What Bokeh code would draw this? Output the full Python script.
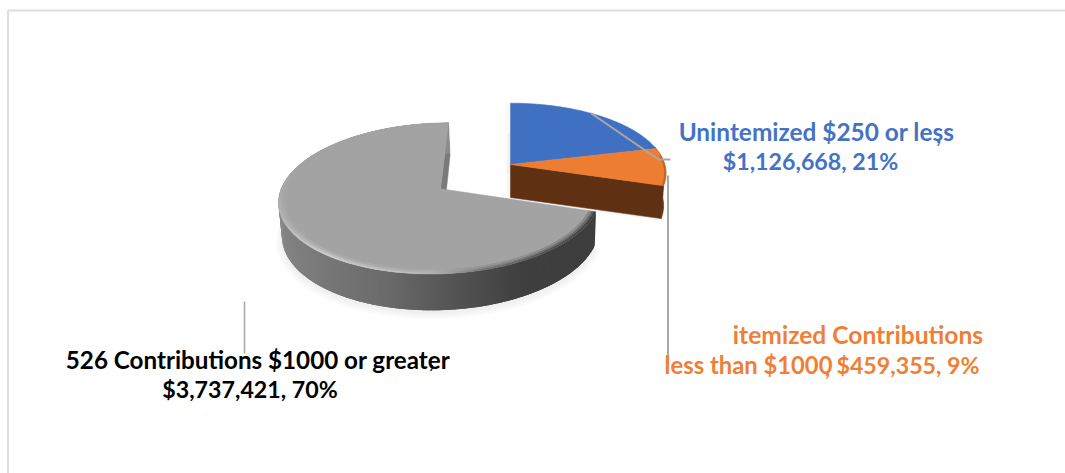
import numpy as np
from bokeh.core.properties import value
from bokeh.embed import file_html
from bokeh.plotting import figure
from bokeh.resources import INLINE

# Contribution totals, clockwise from twelve o'clock
categories = ["Unintemized $250 or less", "itemized Contributions less than $1000", "526 Contributions $1000 or greater"]
amounts = [1126668, 459355, 3737421]
shares = [21, 9, 70]
slice_colors = ["#4070c2", "#ed7d31", "#a3a3a3"]

label_lines = [
    ("Unintemized $250 or less", 816, 130.5, "#4472c4", 24.4),
    ("$1,126,668, 21%", 810, 160.5, "#4472c4", 23.2),
    ("itemized Contributions", 857.5, 333.5, "#f07f35", 24.6),
    ("less than $1000", 748, 364.5, "#f07f35", 23.8),
    ("$459,355, 9%", 907.5, 364.5, "#f07f35", 23.2),
    ("526 Contributions $1000 or greater", 257.5, 358.5, "#000000", 24.2),
    ("$3,737,421, 70%", 249.5, 388.5, "#000000", 23.2),
]
stray_marks = [(",", 431, 359, "#000000", 22), (",", 938, 134, "#4472c4", 22), (",", 827, 367, "#f07f35", 23)]

# Perspective of the tilted disc: vanishing column, horizon and foreshortening
VX, HORIZON, SPAN, PERSP, R0, DEPTH, BASE_SHRINK = 510.0, -393.0, 582.0, 0.13, 162.0, 33.0, 0.985
GRAY_CENTRE = (-70.0, 0.01 * 162.0)
GRAY_R = 0.985 * R0
PULLED_CENTRE = (0.0, 0.345 * R0)
PULLED_R = 0.995 * R0

fractions = np.array(amounts, dtype=float) / sum(amounts)
edges = np.concatenate([[0.0], np.cumsum(fractions)]) * 360.0


def top(centre, radius, deg):
    t = np.radians(deg)
    wx = centre[0] + radius * np.sin(t)
    wy = centre[1] + radius * np.cos(t)
    f = 1.0 / (1.0 + PERSP * wy / R0)
    return VX + wx * f, HORIZON + SPAN * f


def base(centre, radius, deg):
    x, y = top(centre, radius, deg)
    f = (y - HORIZON) / SPAN
    return VX + (x - VX) * BASE_SHRINK, y + DEPTH * f ** 0.7


def arc(a, b, step=1.0):
    return np.linspace(a, b, max(2, int(round((b - a) / step)) + 1))


def sector(centre, radius, a, b, proj=top):
    xs, ys = proj(centre, radius, arc(a, b))
    px, py = proj(centre, 0.0, np.array([0.0]))
    return np.r_[px, xs], np.r_[py, ys]


def hexes(levels):
    return [f"#{int(v):02x}{int(v):02x}{int(v):02x}" for v in levels]


def ring_strips(steps, outer, inner):
    """Overlapping quads along an arc, so that no seams show between them."""
    xs, ys = [], []
    last = steps[-1]
    for a, b in zip(steps[:-1], steps[1:]):
        c = min(b + 1.5, last)
        ox, oy = outer(np.array([a, c]))
        ix, iy = inner(np.array([c, a]))
        xs.append(np.r_[ox, ix].tolist())
        ys.append(np.r_[oy, iy].tolist())
    return xs, ys


p = figure(width=1065, height=473, x_range=(0, 1065), y_range=(473, 0),
           output_backend="svg", toolbar_location=None, min_border=0,
           background_fill_color="#ffffff", border_fill_color="#ffffff", outline_line_color=None)
p.axis.visible = False
p.grid.visible = False

# Frame of the chart area, running off the right and bottom edges
p.line([7.5, 7.5, 1070], [480, 10, 10], line_color="#dedede", line_width=2)

# Soft shadow beneath both pieces
gray_a, gray_b = edges[2], edges[3]
pull_a, pull_b = edges[0], edges[2]
for i in range(1, 6):
    xs, ys = sector(GRAY_CENTRE, GRAY_R * (1 + 0.008 * i), gray_a, gray_b, base)
    p.patch(xs, ys + 2 + i * 0.6, fill_color="#000000", fill_alpha=0.012, line_color=None)
    xs, ys = sector(PULLED_CENTRE, PULLED_R * (1 + 0.006 * i), pull_a, pull_b, base)
    p.patch(xs - i * 0.8, ys + i * 0.5, fill_color="#000000", fill_alpha=0.012, line_color=None)
    xs, ys = top(PULLED_CENTRE, np.array([0.0, PULLED_R]), np.array([0.0, 0.0]))
    p.line(xs - i * 0.8, ys + np.array([10, 0]), line_color="#000000", line_alpha=0.012, line_width=2)

# Cut face of the large slice, mostly hidden by its own top
cx0, cy0 = top(GRAY_CENTRE, 0.0, 0.0)
cx1, cy1 = top(GRAY_CENTRE, GRAY_R, gray_b)
p.patch([cx0, cx1, cx1 + 1.5, cx0 + 2.5], [cy0, cy1, cy1 + DEPTH, cy0 + DEPTH],
        fill_color="#7a7a7a", line_color="#7a7a7a", line_width=0.5)

# Outer wall of the large slice, shaded strip by strip
wall_steps = arc(gray_a, gray_b)
wall_shade = np.interp(wall_steps,
                       [108, 125, 150, 170, 195, 225, 260, 300, 360],
                       [62, 62, 64, 82, 108, 124, 138, 140, 140])
wxs, wys = ring_strips(wall_steps,
                       lambda d: top(GRAY_CENTRE, GRAY_R, d),
                       lambda d: base(GRAY_CENTRE, GRAY_R, d))
p.patches(wxs, wys, fill_color=hexes(wall_shade[:-1]), line_color=None)

# Top surface of the large slice
xs, ys = sector(GRAY_CENTRE, GRAY_R, gray_a, gray_b)
p.patch(xs, ys, fill_color=slice_colors[2], line_color=slice_colors[2], line_width=0.5)

# Rounded rim of the large slice, fading into the top surface
rim_shade = np.interp(wall_steps,
                      [108, 118, 140, 162, 180, 215, 255, 290, 360],
                      [66, 70, 84, 118, 185, 205, 176, 163, 163])
surface = 163.0
bands = [(1.0, 0.985, 1.0), (0.985, 0.97, 0.62), (0.97, 0.955, 0.28)]
for r_out, r_in, weight in bands:
    rxs, rys = ring_strips(wall_steps,
                           lambda d: top(GRAY_CENTRE, GRAY_R * r_out, d),
                           lambda d: top(GRAY_CENTRE, GRAY_R * r_in, d))
    p.patches(rxs, rys, fill_color=hexes(surface + (rim_shade[:-1] - surface) * weight), line_color=None)

# Side walls of the pulled-out pair
brown = "#5f3112"
jx0, jy0 = top(PULLED_CENTRE, 0.0, 0.0)
jx1, jy1 = top(PULLED_CENTRE, PULLED_R, pull_b)
kx1, ky1 = base(PULLED_CENTRE, PULLED_R, pull_b)
p.patch([jx0, jx1, kx1, jx0], [jy0, jy1, ky1, jy0 + DEPTH], fill_color=brown, line_color=brown, line_width=0.5)
outer = arc(pull_a + 75, pull_b)
tx, ty = top(PULLED_CENTRE, PULLED_R, outer)
bx, by = base(PULLED_CENTRE, PULLED_R, outer[::-1])
p.patch(np.r_[tx, bx], np.r_[ty, by], fill_color=brown, line_color=brown, line_width=0.5)

# Top surfaces of the pulled-out pair
for i in (0, 1):
    xs, ys = sector(PULLED_CENTRE, PULLED_R, edges[i], edges[i + 1])
    p.patch(xs, ys, fill_color=slice_colors[i], line_color=slice_colors[i], line_width=0.5)

# Darker lip along the orange edge
lip = arc(edges[1] + 6, edges[2])
ox, oy = top(PULLED_CENTRE, PULLED_R, lip)
ix, iy = top(PULLED_CENTRE, PULLED_R * 0.988, lip[::-1])
p.patch(np.r_[ox, ix], np.r_[oy, iy], fill_color="#c4681f", line_color=None)

# Leader lines
leader = "#a8a8a8"
lx, ly = top(PULLED_CENTRE, PULLED_R, np.array([0.5 * (edges[0] + edges[1]) - 3.0]))
p.line([lx[0], 658, 670], [ly[0], 159, 159], line_color=leader, line_width=2)
p.line([667.5, 667.5], [175, 365], line_color=leader, line_width=2)
p.line([244, 244], [301, 353], line_color=leader, line_width=1.5)

# Labels
for text, x, y, col, size in label_lines + stray_marks:
    p.text([x], [y], text=[text], text_font=value("Lato"), text_font_style="bold",
           text_font_size=f"{size}px", text_color=col, text_align="center", text_baseline="middle")

open("out.html", "w").write(file_html(p, INLINE))
